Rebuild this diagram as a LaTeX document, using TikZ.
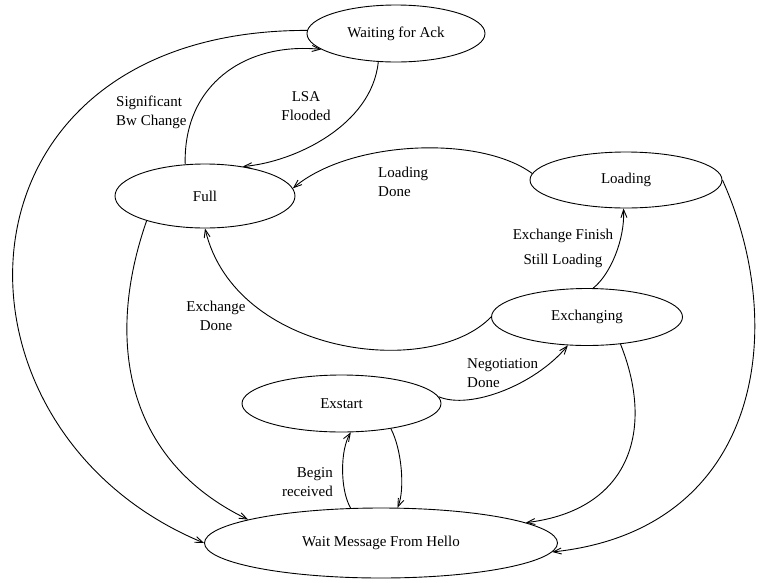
\documentclass[tikz,border=0pt]{standalone}
\usepackage{fontspec}
\setmainfont{Liberation Serif}
\usetikzlibrary{shapes.geometric,arrows.meta}

\begin{document}
\begin{tikzpicture}[x=1pt,y=1pt,yscale=-1,xscale=1,
		every node/.style={font=\fontsize{15}{19}\selectfont},
		stateell/.style={draw, ellipse, inner sep=0pt, line width=0.9pt},
		trans/.style={line width=0.9pt, -{Straight Barb[length=8pt,width=6pt]}}]
		% Set diagram size: 758 x 582
		\useasboundingbox (0,0) rectangle (758,582);

		% States
		\node[stateell, minimum width=178, minimum height=57] (wfa) at (396,33.5) {Waiting for Ack};
		\node[stateell, minimum width=180, minimum height=64] (full) at (205,196) {Full};
		\node[stateell, minimum width=192, minimum height=56] (loading) at (626,180) {Loading};
		\node[stateell, minimum width=191, minimum height=57] (exch) at (587,317) {Exchanging};
		\node[stateell, minimum width=199, minimum height=57] (exstart) at (341.5,403.5) {Exstart};
		\node[stateell, minimum width=353, minimum height=70] (hello) at (381,543) {Wait Message From Hello};

		% Transitions around Full and Waiting for Ack
		\draw[trans] (wfa.178) .. controls (-60,30) and (-71,429) .. (hello.west);
		\draw[trans] (full.122) .. controls (183,85) and (245,42) .. (wfa.192);
		\draw[trans] (wfa.238) .. controls (372,125) and (295,162) .. (full.38);
		\draw[trans] (full.203) .. controls (105,340) and (125,460) .. (hello.170);

		% Transitions from Loading
		\draw[trans] (loading.176) .. controls (480,135) and (350,140) .. (full.5);
		\draw[trans] (loading.east) .. controls (790,330) and (760,530) .. (hello.-3);

		% Transitions from Exchanging
		\draw[trans] (exch.west) .. controls (430,380) and (235,355) .. (full.south);
		\draw[trans] (exch.78) .. controls (610,275) and (625,240) .. (loading.265);
		\draw[trans] (exch.-39) .. controls (655,430) and (630,510) .. (hello.8);

		% Transitions between Exstart and Wait Message From Hello
		\draw[trans] (exstart.4) .. controls (470,410) and (535,385) .. (exch.236);
		\draw[trans] (exstart.-27) .. controls (402,450) and (405,490) .. (hello.65);
		\draw[trans] (hello.131) .. controls (340,490) and (340,450) .. (exstart.-72);

		% Labels
		\node[anchor=west, align=left, inner sep=0pt] (lbw) at (116,112) {Significant\\Bw Change};
		\node[align=center, inner sep=0pt] (llsa) at (306,106) {LSA\\Flooded};
		\node[anchor=west, align=left, inner sep=0pt] (lld) at (378,182) {Loading\\Done};
		\node[align=center, inner sep=0pt] (lef) at (563,248.5) {Exchange Finish\\[6pt]Still Loading};
		\node[align=center, inner sep=0pt] (led) at (216,316) {Exchange\\Done};
		\node[anchor=west, align=left, inner sep=0pt] (lnd) at (467,373.5) {Negotiation\\Done};
		\node[anchor=east, align=right, inner sep=0pt] (lbr) at (333,482.5) {Begin\\received};
	\end{tikzpicture}
\end{document}
